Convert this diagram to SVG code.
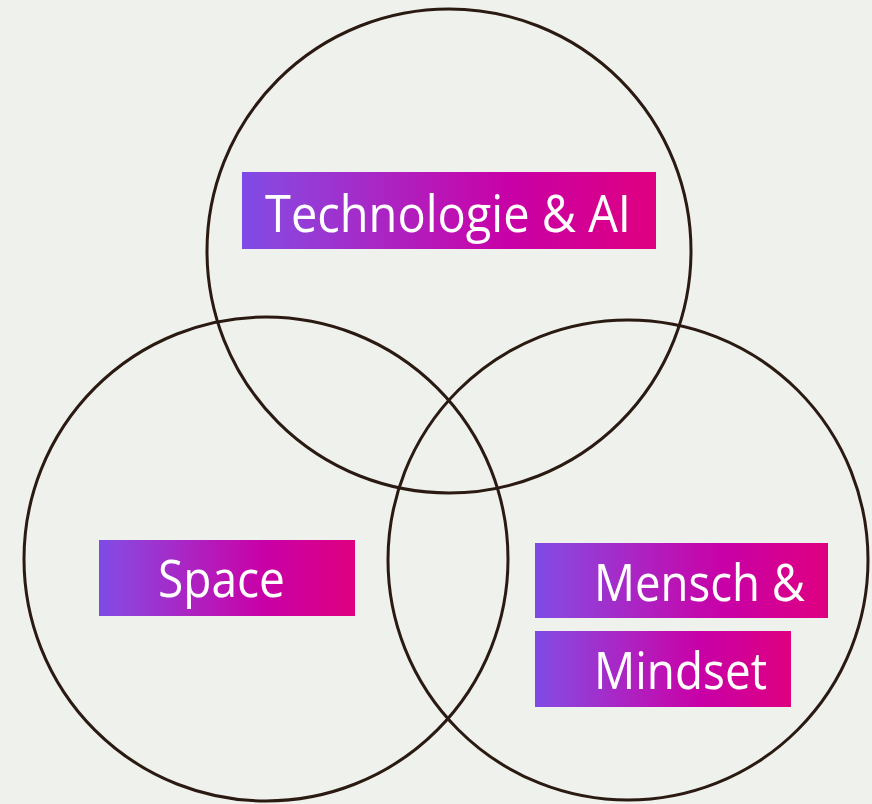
<svg xmlns="http://www.w3.org/2000/svg" width="872" height="804" viewBox="0 0 872 804">
<style>
.ring{fill:none;stroke:#2a1a12;stroke-width:3}
.lbl{font-family:"Open Sans","Noto Sans",sans-serif;fill:#ffffff;font-size:52px}
</style>
<defs>
<linearGradient id="g" x1="0" y1="0" x2="1" y2="0">
<stop offset="0" stop-color="#7d4ae6"/>
<stop offset="0.08" stop-color="#8d44dd"/>
<stop offset="0.5" stop-color="#bc12b4"/>
<stop offset="0.65" stop-color="#c800a6"/>
<stop offset="1" stop-color="#df0080"/>
</linearGradient>
</defs>
<rect width="872" height="804" fill="#eff1ed"/>
<g id="circles">
<circle id="c-tech" class="ring" cx="449" cy="251" r="242"/>
<circle id="c-space" class="ring" cx="266" cy="559" r="242"/>
<circle id="c-mensch" class="ring" cx="628" cy="560" r="240"/>
</g>
<g id="n-tech">
<rect x="242" y="172" width="414" height="77" fill="url(#g)"/>
<text class="lbl" x="265" y="232" textLength="366" lengthAdjust="spacingAndGlyphs">Technologie &amp; AI</text>
</g>
<g id="n-space">
<rect x="99" y="540" width="256" height="76" fill="url(#g)"/>
<text class="lbl" x="158" y="597" textLength="127" lengthAdjust="spacingAndGlyphs">Space</text>
</g>
<g id="n-mensch">
<rect x="535" y="543" width="293" height="75" fill="url(#g)"/>
<text class="lbl" x="594" y="601" textLength="211" lengthAdjust="spacingAndGlyphs">Mensch &amp;</text>
<rect x="535" y="631" width="256" height="76" fill="url(#g)"/>
<text class="lbl" x="594" y="689" textLength="173" lengthAdjust="spacingAndGlyphs">Mindset</text>
</g>
</svg>
